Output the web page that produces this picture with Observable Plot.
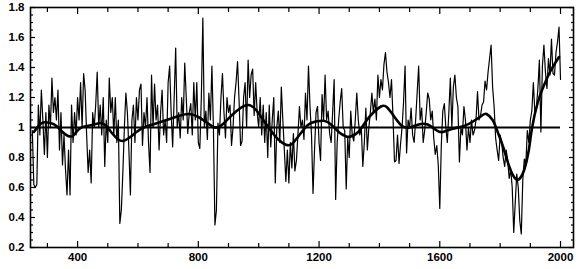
<!DOCTYPE html>
<html>
<head>
<meta charset="utf-8">
<script src="https://cdn.jsdelivr.net/npm/d3@7"></script>
<script src="https://cdn.jsdelivr.net/npm/@observablehq/plot@0.6"></script>
<style>
  html, body { margin: 0; padding: 0; background: #fff; }
  svg { display: block; }
</style>
</head>
<body>
<div id="chart"></div>
<script>
// Noisy series: values every 5 years, starting at year 250
const seriesStart = 250;
const seriesStep = 5;
const seriesValues = [
  0.98,
  0.62, 0.60, 0.62, 1.15, 0.95, 1.25, 1.05, 0.82, 1.10, 0.80,
  1.15, 1.00, 1.33, 1.10, 1.20, 1.05, 1.25, 0.85, 1.10, 0.75,
  0.95, 0.72, 0.55, 0.85, 0.55, 1.15, 0.90, 1.10, 0.95, 1.20,
  1.05, 1.30, 1.00, 1.36, 1.25, 0.95, 0.70, 0.85, 0.63, 1.10,
  1.00, 1.15, 1.37, 1.00, 1.15, 0.95, 1.20, 0.74, 1.05, 0.90,
  1.33, 1.10, 1.20, 0.95, 1.20, 0.90, 1.05, 0.36, 0.45, 0.70,
  1.00, 1.23, 1.10, 0.85, 0.55, 1.05, 1.15, 0.90, 1.20, 1.05,
  1.25, 1.29, 0.88, 1.10, 1.00, 1.20, 0.90, 0.70, 1.35, 1.00,
  1.29, 1.05, 1.15, 0.85, 1.10, 1.25, 0.95, 1.05, 0.90, 1.30,
  1.41, 1.10, 0.87, 1.20, 1.53, 1.00, 1.10, 0.93, 1.20, 1.05,
  1.43, 1.20, 0.96, 1.10, 1.16, 0.95, 1.30, 1.05, 1.30, 0.90,
  0.86, 1.20, 1.73, 1.00, 1.11, 0.92, 1.23, 1.05, 1.41, 1.00,
  0.35, 0.45, 1.03, 0.95, 1.20, 1.36, 1.10, 0.93, 1.20, 1.10,
  1.15, 0.88, 1.00, 1.20, 1.30, 1.44, 1.18, 0.88, 0.91, 1.20,
  1.30, 1.00, 1.45, 1.20, 1.35, 1.39, 1.08, 1.30, 1.10, 1.00,
  1.20, 0.95, 1.15, 0.90, 1.10, 0.80, 1.15, 0.87, 1.05, 1.20,
  0.63, 1.00, 1.11, 0.90, 1.27, 1.05, 0.85, 0.64, 0.85, 0.63,
  0.90, 0.73, 0.96, 0.71, 0.78, 0.95, 1.14, 1.00, 1.05, 0.92,
  1.23, 1.05, 1.41, 1.14, 0.95, 0.56, 0.85, 1.10, 1.14, 0.90,
  0.78, 1.22, 1.05, 1.35, 1.05, 1.11, 0.96, 0.90, 1.10, 1.32,
  0.52, 0.90, 1.05, 1.17, 1.26, 1.00, 0.98, 0.59, 0.93, 0.80,
  1.11, 0.95, 0.91, 1.05, 1.23, 1.05, 0.95, 1.00, 0.74, 0.90,
  1.13, 0.85, 1.00, 1.10, 1.23, 1.10, 1.19, 1.05, 1.35, 1.20,
  1.32, 1.25, 1.42, 1.50, 1.37, 1.30, 1.20, 1.32, 1.07, 0.77,
  0.78, 0.95, 0.76, 0.89, 1.00, 1.17, 1.41, 0.83, 1.05, 1.00,
  1.13, 0.95, 0.90, 1.05, 1.23, 1.41, 1.05, 1.13, 0.90, 0.98,
  1.10, 1.23, 1.19, 1.05, 1.11, 0.93, 0.82, 0.88, 0.75, 0.46,
  0.88, 1.11, 1.16, 1.00, 0.90, 1.10, 1.33, 1.00, 1.27, 1.35,
  1.20, 1.14, 0.77, 1.00, 0.95, 1.14, 1.05, 0.85, 1.00, 0.90,
  1.05, 0.95, 0.98, 1.05, 1.24, 1.05, 1.08, 1.15, 1.17, 1.31,
  1.25, 1.37, 1.46, 1.55, 1.27, 1.14, 0.93, 0.85, 0.78, 0.95,
  0.90, 0.80, 0.74, 0.85, 0.78, 0.66, 0.72, 0.60, 0.30, 0.50,
  0.69, 0.60, 0.38, 0.29, 0.65, 0.79, 0.75, 0.98, 0.90, 1.05,
  1.11, 1.30, 1.10, 1.13, 1.26, 1.45, 0.97, 1.41, 1.55, 1.37,
  1.26, 1.46, 1.35, 1.59, 1.36, 1.35, 1.50, 1.57, 1.67, 1.32
];

// Smoothed curve (year, value)
const smoothYears = [255, 275, 290, 310, 330, 350, 367, 385, 405, 430, 455, 476, 495, 515, 535, 550, 570, 595, 620, 650, 680, 710, 740, 770, 800, 830, 855, 880, 910, 940, 965, 990, 1015, 1040, 1065, 1090, 1110, 1135, 1165, 1190, 1215, 1240, 1265, 1290, 1305, 1330, 1355, 1380, 1405, 1425, 1450, 1475, 1500, 1530, 1560, 1590, 1610, 1640, 1680, 1710, 1740, 1755, 1775, 1790, 1810, 1830, 1850, 1865, 1880, 1895, 1905, 1925, 1945, 1965, 1995];
const smoothValues = [0.97, 1.02, 1.035, 1.03, 1.01, 0.97, 0.945, 0.945, 0.99, 1.01, 1.02, 1.03, 1.01, 0.96, 0.92, 0.91, 0.93, 0.97, 1.00, 1.02, 1.04, 1.06, 1.08, 1.09, 1.07, 1.03, 1.00, 1.02, 1.08, 1.13, 1.15, 1.12, 1.05, 0.98, 0.92, 0.885, 0.89, 0.95, 1.02, 1.04, 1.045, 1.02, 0.97, 0.94, 0.94, 0.97, 1.04, 1.10, 1.14, 1.135, 1.07, 1.01, 1.00, 1.02, 1.02, 0.98, 0.97, 0.99, 1.01, 1.04, 1.08, 1.09, 1.05, 0.98, 0.87, 0.74, 0.66, 0.66, 0.72, 0.85, 0.99, 1.17, 1.28, 1.37, 1.47];

const referenceLevel = 1;
const referenceEnd = 2000;

const xDomain = [244, 2043];
const yDomain = [0.2, 1.8];
const xLabelTicks = [400, 800, 1200, 1600, 2000];
const xMinorTicks = [300, 500, 600, 700, 900, 1000, 1100, 1300, 1400, 1500, 1700, 1800, 1900];
const yLabelTicks = [0.2, 0.4, 0.6, 0.8, 1.0, 1.2, 1.4, 1.6, 1.8];
const yMinorTicks = [0.25, 0.3, 0.35, 0.45, 0.5, 0.55, 0.65, 0.7, 0.75, 0.85, 0.9, 0.95, 1.05, 1.1, 1.15, 1.25, 1.3, 1.35, 1.45, 1.5, 1.55, 1.65, 1.7, 1.75];

const series = seriesValues.map((v, i) => ({year: seriesStart + i * seriesStep, value: v}));
const smooth = smoothYears.map((y, i) => ({year: y, value: smoothValues[i]}));

const yFmt = d => (Math.abs(d - 1) < 1e-9 ? "1" : d3.format(".1f")(d));
const noLabel = () => "";

const chart = Plot.plot({
  width: 587,
  height: 269,
  marginLeft: 30,
  marginRight: 14,
  marginTop: 7,
  marginBottom: 22,
  x: {domain: xDomain, label: null},
  y: {domain: yDomain, label: null},
  style: {fontFamily: "'Liberation Sans', Arial, sans-serif", fontWeight: "bold", fontSize: "11.5px", color: "#000", background: "#fff"},
  marks: [
    Plot.ruleY([referenceLevel], {x1: xDomain[0], x2: referenceEnd, stroke: "#000", strokeWidth: 2}),
    Plot.line(series, {x: "year", y: "value", stroke: "#000", strokeWidth: 1.2}),
    Plot.line(smooth, {x: "year", y: "value", stroke: "#000", strokeWidth: 2.6, curve: "natural"}),
    // inward ticks
    Plot.axisX(xLabelTicks, {anchor: "bottom", tickSize: -6, tickFormat: noLabel, label: null, strokeWidth: 1.2}),
    Plot.axisX(xMinorTicks, {anchor: "bottom", tickSize: -4, tickFormat: noLabel, label: null, strokeWidth: 1.2}),
    Plot.axisX(xLabelTicks, {anchor: "top", tickSize: -6, tickFormat: noLabel, label: null, strokeWidth: 1.2}),
    Plot.axisX(xMinorTicks, {anchor: "top", tickSize: -4, tickFormat: noLabel, label: null, strokeWidth: 1.2}),
    Plot.axisY(yLabelTicks, {anchor: "left", tickSize: -5, tickFormat: noLabel, label: null, strokeWidth: 1.2}),
    Plot.axisY(yMinorTicks, {anchor: "left", tickSize: -3, tickFormat: noLabel, label: null, strokeWidth: 1.2}),
    Plot.axisY(yLabelTicks, {anchor: "right", tickSize: -5, tickFormat: noLabel, label: null, strokeWidth: 1.2}),
    Plot.axisY(yMinorTicks, {anchor: "right", tickSize: -3, tickFormat: noLabel, label: null, strokeWidth: 1.2}),
    // labels
    Plot.axisX(xLabelTicks, {anchor: "bottom", tickSize: 0, tickPadding: 5, tickFormat: d => String(d), label: null, fontWeight: "bold"}),
    Plot.axisY(yLabelTicks, {anchor: "left", tickSize: 0, tickPadding: 6, tickFormat: yFmt, label: null, fontWeight: "bold"}),
    Plot.frame({stroke: "#000", strokeWidth: 1.6})
  ]
});

document.getElementById("chart").appendChild(chart);
</script>
</body>
</html>
